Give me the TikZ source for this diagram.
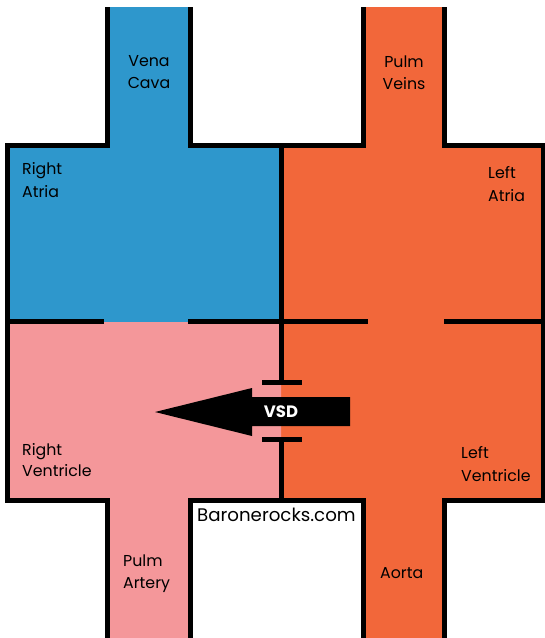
\documentclass[tikz,border=0pt]{standalone}
\usepackage{fontspec}
\setmainfont{Poppins}
\definecolor{cblue}{HTML}{2E97CC}
\definecolor{corange}{HTML}{F2673A}
\definecolor{cpink}{HTML}{F4979A}
\begin{document}
\begin{tikzpicture}[x=1pt,y=-1pt,
  wall/.style={line width=5pt,black,line join=miter},
  lbl/.style={inner sep=0pt,font=\fontsize{15.8}{18}\selectfont,text=black},
  lblw/.style={lbl,anchor=base west},
  lblc/.style={lbl,anchor=base}]
\useasboundingbox (0,0) rectangle (545,638);
% fills
\fill[cblue] (107,7) -- (191,7) -- (191,145) -- (281,145) -- (281,322) -- (7,322) -- (7,145) -- (107,145) -- cycle;
\fill[corange] (363,7) -- (445,7) -- (445,145) -- (544,145) -- (544,500) -- (445,500) -- (445,638) -- (363,638) -- (363,500) -- (281,500) -- (281,145) -- (363,145) -- cycle;
\fill[cpink] (7,322) -- (281,322) -- (281,500) -- (190,500) -- (190,638) -- (108,638) -- (108,500) -- (7,500) -- cycle;
% walls
\draw[wall] (107.5,7) -- (107.5,145.5) -- (7.5,145.5) -- (7.5,500) -- (107.5,500) -- (107.5,638);
\draw[wall] (190.5,7) -- (190.5,145.5) -- (363.5,145.5) -- (363.5,7);
\draw[wall] (444.5,7) -- (444.5,145.5) -- (543.5,145.5) -- (543.5,500) -- (444.5,500) -- (444.5,638);
\draw[wall] (190,638) -- (190,500) -- (363,500) -- (363,638);
\draw[wall] (281,145) -- (281,383);
\draw[wall] (281,440) -- (281,500);
\draw[wall] (262,382.5) -- (302,382.5);
\draw[wall] (262,439.5) -- (302,439.5);
\draw[wall] (7,321.5) -- (104,321.5);
\draw[wall] (188,321.5) -- (368,321.5);
\draw[wall] (444,321.5) -- (545,321.5);
% VSD arrow
\fill[black] (155,412) -- (252,388) -- (252,397) -- (350,397) -- (350,426) -- (252,426) -- (252,436) -- cycle;
\node[inner sep=0pt,text=white,font=\bfseries\fontsize{16.5}{18}\selectfont] (vsd) at (281,412) {VSD};
% labels
\node[lblc] (vc1) at (149,66) {Vena};
\node[lblc] (vc2) at (149,88) {Cava};
\node[lblw] (ra1) at (22,174) {Right};
\node[lblw] (ra2) at (22,197) {Atria};
\node[lblc] (pv1) at (404,67) {Pulm};
\node[lblc] (pv2) at (404,89) {Veins};
\node[lblw] (la1) at (488,178) {Left};
\node[lblw] (la2) at (488,201) {Atria};
\node[lblw] (rv1) at (22,455) {Right};
\node[lblw] (rv2) at (22,476) {Ventricle};
\node[lblw] (lv1) at (461,458) {Left};
\node[lblw] (lv2) at (461,481) {Ventricle};
\node[lblw] (pa1) at (123,566) {Pulm};
\node[lblw] (pa2) at (123,588) {Artery};
\node[lblw] (ao) at (380,578) {Aorta};
\node[lbl,anchor=base west,font=\fontsize{18.2}{20}\selectfont] (web) at (197,521) {Baronerocks.com};
\end{tikzpicture}
\end{document}
